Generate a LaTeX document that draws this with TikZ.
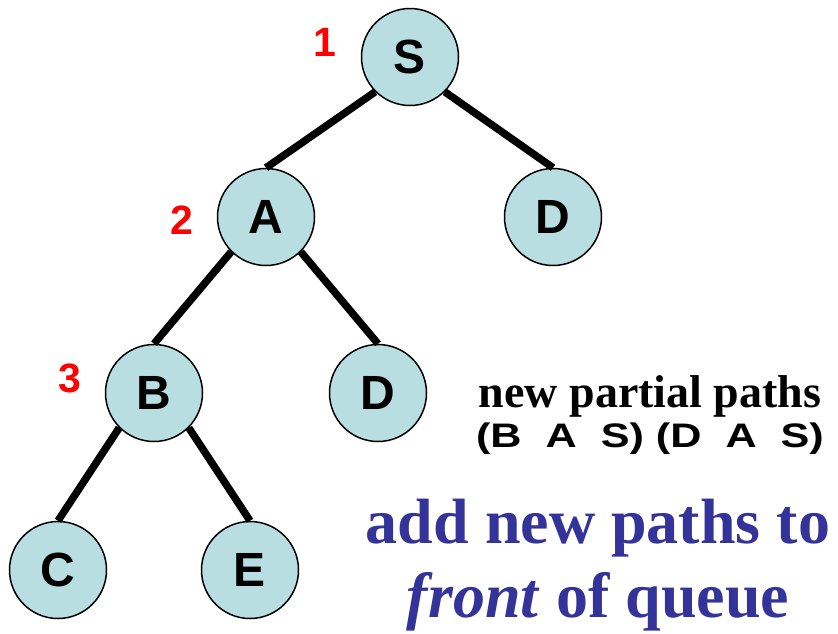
\documentclass[tikz,border=0pt]{standalone}
\usepackage{fontspec}
\setmainfont{Liberation Serif}
\newfontfamily\arialfont{Liberation Sans}
\newfontfamily\widefont[FakeStretch=1.27]{Liberation Sans}
\definecolor{nodefill}{RGB}{185,222,225}
\definecolor{qblue}{RGB}{51,51,153}
\begin{document}
\begin{tikzpicture}[x=1pt,y=-1pt,
  tnode/.style={circle,draw=black,line width=1.5pt,fill=nodefill,minimum size=97pt,inner sep=0pt,
    font=\arialfont\bfseries\fontsize{48}{52}\selectfont},
  edge/.style={line width=7.5pt,black},
  order/.style={text=red,inner sep=0pt,font=\arialfont\bfseries\fontsize{41}{45}\selectfont},
  note/.style={inner sep=0pt,anchor=base,font=\bfseries\fontsize{46}{50}\selectfont},
  pathlist/.style={inner sep=0pt,anchor=base,font=\widefont\bfseries\fontsize{34}{38}\selectfont},
  bluenote/.style={inner sep=0pt,anchor=base,text=qblue,font=\bfseries\fontsize{64}{70}\selectfont}]
\useasboundingbox (0,0) rectangle (838,633);
\coordinate (cS) at (410,57);
\coordinate (cA) at (266,217);
\coordinate (cD1) at (553,217);
\coordinate (cB) at (154,393);
\coordinate (cD2) at (378,393);
\coordinate (cC) at (58,570);
\coordinate (cE) at (250,570);
\node[tnode] (S) at (cS) {S};
\node[tnode] (A) at (cA) {A};
\node[tnode] (D1) at (cD1) {D};
\node[tnode] (B) at (cB) {B};
\node[tnode] (D2) at (cD2) {D};
\node[tnode] (C) at (cC) {C};
\node[tnode] (E) at (cE) {E};
\draw[edge] (S.south west) -- (A.north);
\draw[edge] (S.south east) -- (D1.north);
\draw[edge] (A.south west) -- (B.north);
\draw[edge] (A.south east) -- (D2.north);
\draw[edge] (B.south west) -- (C.north);
\draw[edge] (B.south east) -- (E.north);
\node[order] (n1) at (325,42) {1};
\node[order] (n2) at (182,220) {2};
\node[order] (n3) at (70,378) {3};
\node[note] (np) at (650,407) {new partial paths};
\node[pathlist] (pl) at (650,447) {(B\ \ A\ \ S)\ (D\ \ A\ \ S)};
\node[bluenote] (b1) at (598,543) {add new paths to};
\node[bluenote] (b2) at (598,617) {\textit{front} of queue};
\end{tikzpicture}
\end{document}
